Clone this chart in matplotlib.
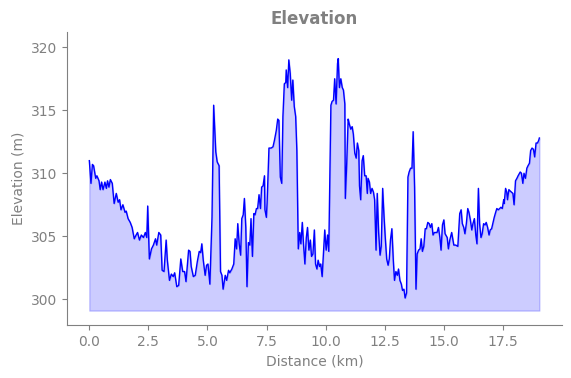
import numpy as np
import matplotlib
matplotlib.use("Agg")
import matplotlib.pyplot as plt

# Perfil de elevacao
distancia_km = [
    0.00, 0.07, 0.13, 0.18, 0.27, 0.32, 0.41, 0.46, 0.52, 0.58, 0.66, 0.72, 0.77, 0.83, 0.89, 0.97,
    1.05, 1.14, 1.22, 1.28, 1.34, 1.42, 1.51, 1.56, 1.64, 1.73, 1.81, 1.90, 1.98, 2.04, 2.12, 2.20,
    2.29, 2.37, 2.43, 2.47, 2.54, 2.63, 2.71, 2.80, 2.85, 2.94, 3.02, 3.08, 3.16, 3.25, 3.30, 3.39,
    3.47, 3.55, 3.61, 3.70, 3.78, 3.87, 3.95, 4.03, 4.09, 4.20, 4.26, 4.31, 4.40, 4.48, 4.57, 4.65,
    4.71, 4.76, 4.82, 4.90, 4.96, 5.02, 5.10, 5.19, 5.26, 5.35, 5.41, 5.49, 5.55, 5.61, 5.66, 5.75,
    5.81, 5.89, 5.94, 6.03, 6.11, 6.17, 6.23, 6.28, 6.34, 6.40, 6.45, 6.51, 6.56, 6.62, 6.67, 6.73,
    6.79, 6.84, 6.90, 6.96, 7.01, 7.07, 7.12, 7.18, 7.24, 7.29, 7.35, 7.41, 7.43, 7.49, 7.52, 7.60,
    7.69, 7.77, 7.83, 7.91, 7.97, 8.02, 8.08, 8.14, 8.19, 8.25, 8.31, 8.33, 8.39, 8.44, 8.50, 8.56,
    8.61, 8.67, 8.73, 8.78, 8.84, 8.90, 8.95, 9.01, 9.06, 9.12, 9.18, 9.23, 9.29, 9.35, 9.40, 9.46,
    9.52, 9.57, 9.63, 9.68, 9.74, 9.79, 9.85, 9.91, 9.96, 10.02, 10.08, 10.13, 10.22, 10.27, 10.33,
    10.38, 10.44, 10.50, 10.53, 10.58, 10.64, 10.70, 10.75, 10.81, 10.83, 10.89, 10.95, 11.00, 11.06,
    11.12, 11.17, 11.23, 11.29, 11.34, 11.40, 11.43, 11.48, 11.54, 11.59, 11.65, 11.71, 11.76, 11.79,
    11.85, 11.90, 11.96, 12.02, 12.07, 12.13, 12.18, 12.24, 12.30, 12.35, 12.41, 12.47, 12.52, 12.58,
    12.64, 12.69, 12.74, 12.80, 12.86, 12.91, 12.97, 13.03, 13.08, 13.14, 13.20, 13.25, 13.31, 13.36,
    13.42, 13.48, 13.53, 13.59, 13.65, 13.70, 13.76, 13.82, 13.87, 13.93, 13.99, 14.04, 14.09, 14.15,
    14.21, 14.26, 14.32, 14.38, 14.43, 14.49, 14.54, 14.60, 14.66, 14.71, 14.77, 14.83, 14.88, 14.94,
    15.00, 15.05, 15.14, 15.19, 15.25, 15.33, 15.42, 15.50, 15.59, 15.67, 15.73, 15.78, 15.84, 15.89,
    15.95, 16.01, 16.06, 16.12, 16.18, 16.23, 16.29, 16.35, 16.40, 16.46, 16.51, 16.57, 16.62, 16.68,
    16.74, 16.79, 16.85, 16.91, 16.96, 17.02, 17.07, 17.13, 17.19, 17.24, 17.30, 17.36, 17.41, 17.47,
    17.53, 17.55, 17.61, 17.66, 17.69, 17.75, 17.80, 17.86, 17.92, 17.97, 18.03, 18.09, 18.14, 18.23,
    18.28, 18.34, 18.39, 18.45, 18.51, 18.56, 18.62, 18.67, 18.73, 18.79, 18.84, 18.90, 18.96, 19.01,
    19.04,
]

elevacao_m = [
    311.0, 309.2, 310.7, 310.6, 309.6, 309.8, 309.4, 308.7, 309.3, 308.7, 309.3, 308.8, 309.4, 308.9, 309.5, 309.2,
    307.6, 308.4, 307.7, 307.9, 307.1, 307.5, 306.9, 307.0, 306.4, 306.1, 305.7, 304.8, 305.1, 305.3, 304.7, 305.1,
    304.9, 305.3, 304.9, 307.4, 303.2, 304.0, 304.3, 304.8, 304.3, 305.3, 305.1, 302.3, 302.2, 304.7, 303.1, 301.5,
    302.0, 301.8, 302.1, 301.0, 301.1, 303.2, 302.2, 302.2, 301.4, 303.9, 303.8, 302.6, 301.8, 301.9, 303.0, 303.8,
    303.7, 304.4, 303.1, 301.9, 302.7, 302.8, 301.2, 306.5, 315.4, 311.7, 310.9, 310.6, 302.2, 301.9, 300.8, 301.9,
    301.5, 302.3, 302.1, 302.4, 302.8, 304.8, 304.0, 306.0, 304.4, 303.5, 306.4, 306.7, 308.0, 305.7, 301.0, 304.5,
    304.3, 306.4, 303.4, 306.8, 306.7, 307.2, 307.2, 308.3, 307.2, 308.9, 309.0, 309.8, 307.1, 306.5, 307.6, 312.0,
    312.0, 312.1, 312.6, 313.4, 314.3, 314.2, 309.7, 309.2, 314.5, 317.1, 317.2, 318.2, 316.8, 319.0, 317.9, 315.8,
    317.4, 315.3, 314.5, 311.8, 304.0, 305.3, 304.4, 306.1, 304.4, 302.8, 304.9, 305.7, 303.9, 304.7, 303.4, 303.6,
    305.5, 302.8, 302.4, 303.1, 302.6, 302.8, 301.8, 303.9, 305.5, 303.9, 305.1, 303.8, 315.4, 315.7, 315.8,
    317.5, 315.5, 318.7, 319.1, 316.8, 317.5, 316.8, 316.6, 315.5, 308.0, 310.8, 314.3, 313.9, 313.5,
    313.7, 313.1, 311.6, 311.2, 312.4, 311.8, 309.0, 307.9, 311.0, 311.4, 309.8, 309.8, 308.4, 309.6,
    309.3, 308.4, 308.8, 308.5, 307.9, 303.9, 308.4, 305.3, 303.5, 304.2, 308.8, 306.5, 304.9, 303.2,
    302.7, 303.2, 304.7, 305.6, 303.1, 301.5, 302.2, 301.9, 302.4, 301.5, 301.2, 300.7, 300.8, 300.1,
    300.5, 309.7, 310.1, 310.4, 310.4, 313.3, 308.9, 300.8, 303.6, 303.9, 304.0, 304.8, 303.8, 304.2,
    305.6, 305.6, 306.1, 306.0, 305.7, 306.0, 305.1, 305.3, 305.3, 305.3, 305.7, 304.9, 303.9, 305.9,
    306.3, 305.2, 304.9, 304.0, 304.7, 305.3, 304.3, 304.3, 304.2, 306.8, 307.1, 306.0, 305.7, 305.2,
    306.0, 307.2, 306.9, 306.3, 305.5, 306.0, 306.4, 305.1, 304.4, 308.8, 306.0, 304.9, 305.2, 306.0,
    305.9, 306.1, 305.7, 305.1, 305.5, 305.6, 306.0, 306.5, 306.9, 307.2, 307.1, 307.2, 307.3, 307.2,
    307.9, 307.6, 308.8, 308.5, 307.9, 308.7, 308.6, 308.5, 308.4, 307.5, 309.4, 309.6, 309.8, 310.1,
    310.0, 309.2, 310.0, 309.6, 310.4, 310.6, 310.8, 311.8, 312.0, 311.9, 311.3, 312.4, 312.4, 312.6,
    312.8,
]

cinza = '#808080'

fig, ax = plt.subplots(figsize=(5.71, 3.78), dpi=100)
fig.subplots_adjust(left=0.117, right=0.984, bottom=0.140, top=0.915)

base = min(elevacao_m) - 1
ax.plot(distancia_km, elevacao_m, color='blue', linewidth=1)
ax.fill_between(distancia_km, elevacao_m, base, color='blue', alpha=0.2)

ax.set_ylim(297.95, 321.2)
ax.set_title('Elevation', color=cinza, fontweight='bold', fontsize=12)
ax.set_xlabel('Distance (km)', color=cinza)
ax.set_ylabel('Elevation (m)', color=cinza)

ax.spines['top'].set_visible(False)
ax.spines['right'].set_visible(False)
ax.spines['left'].set_color(cinza)
ax.spines['bottom'].set_color(cinza)
ax.tick_params(colors=cinza)

plt.savefig('out.png', dpi=100)
